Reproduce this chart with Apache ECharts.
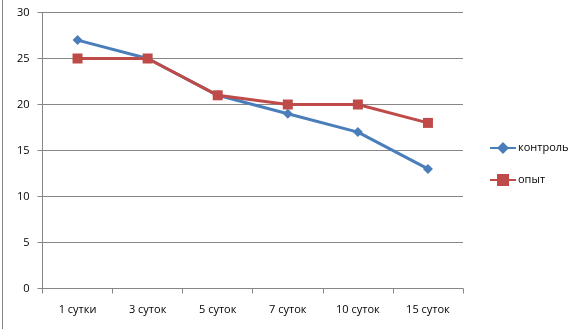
<!DOCTYPE html>
<html><head><meta charset="utf-8">
<script src="https://cdn.jsdelivr.net/npm/echarts@6/dist/echarts.min.js"></script>
<style>html,body{margin:0;padding:0;background:#fff}#c{width:577px;height:329px}</style>
</head><body><div id="c"></div>
<script>
const categories = ['1 сутки','3 суток','5 суток','7 суток','10 суток','15 суток'];
const control = [27,25,21,19,17,13];
const experiment = [25,25,21,20,20,18];
const yTicks = {min:0, max:30, interval:5};

const chart = echarts.init(document.getElementById('c'), null, {renderer:'canvas'});
const font = '"Open Sans", "DejaVu Sans", sans-serif';
chart.setOption({
  animation:false,
  grid:{left:42.5, top:12.5, width:420.5, height:276, containLabel:false},
  graphic:[{type:'line', shape:{x1:2.5,y1:0,x2:2.5,y2:329}, style:{stroke:'#868686', lineWidth:1}}],
  legend:{
    orient:'vertical', left:484, top:137, itemGap:20, itemWidth:26, itemHeight:15,
    textStyle:{fontFamily:font, fontSize:11, color:'#000', padding:[0,0,0,-3]},
    data:['контроль','опыт']
  },
  xAxis:{
    type:'category', data:categories, boundaryGap:true,
    axisLine:{lineStyle:{color:'#868686'}},
    axisTick:{show:true, length:5, lineStyle:{color:'#868686'}},
    axisLabel:{fontFamily:font, fontSize:11, color:'#000', margin:16}
  },
  yAxis:{
    type:'value', min:yTicks.min, max:yTicks.max, interval:yTicks.interval,
    axisLine:{show:true, lineStyle:{color:'#868686'}},
    axisTick:{show:true, inside:false, length:5, lineStyle:{color:'#868686'}},
    splitLine:{lineStyle:{color:'#868686'}},
    axisLabel:{fontFamily:font, fontSize:11, color:'#000', margin:13}
  },
  series:[
    {name:'контроль', type:'line', data:control, symbol:'diamond', symbolSize:10,
     itemStyle:{color:'#4A7EBB'}, lineStyle:{width:3, color:'#4A7EBB'}},
    {name:'опыт', type:'line', data:experiment, symbol:'rect', symbolSize:10,
     itemStyle:{color:'#BE4B48'}, lineStyle:{width:3, color:'#BE4B48'}}
  ]
});
</script></body></html>
